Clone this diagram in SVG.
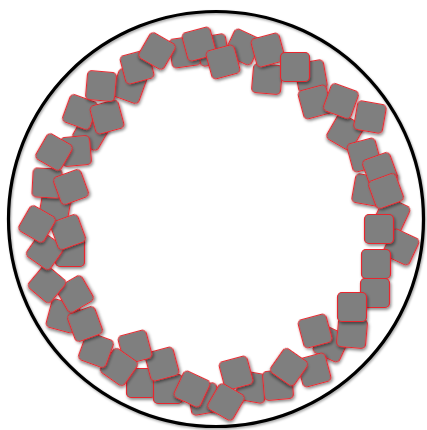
<svg xmlns="http://www.w3.org/2000/svg" xmlns:xlink="http://www.w3.org/1999/xlink" width="427" height="430" viewBox="0 0 427 430">
  <defs>
    <filter id="sh" x="-40%" y="-40%" width="180%" height="180%">
      <feDropShadow dx="1.2" dy="2" stdDeviation="1.4" flood-color="#000" flood-opacity="0.45"/>
    </filter>
    <filter id="csh" x="-5%" y="-5%" width="110%" height="110%">
      <feDropShadow dx="1" dy="1.5" stdDeviation="1.2" flood-color="#000" flood-opacity="0.35"/>
    </filter>
    <rect id="sq" x="-14.5" y="-14.5" width="29" height="29" rx="4.5" ry="4.5"/>
  </defs>
  <style>
    .s { fill: #7f7f7f; stroke: #e8262f; stroke-width: 1.2; filter: url(#sh); }
  </style>
  <rect width="427" height="430" fill="#ffffff"/>
  <circle id="ring" cx="216" cy="219" r="207.5" fill="none" stroke="#000" stroke-width="3.2" filter="url(#csh)"/>
  <g id="back">
    <use href="#sq" class="s" transform="translate(185,52) rotate(-8)"/>
    <use href="#sq" class="s" transform="translate(213,50) rotate(-10)"/>
    <use href="#sq" class="s" transform="translate(129,86) rotate(20)"/>
    <use href="#sq" class="s" transform="translate(91,132) rotate(30)"/>
    <use href="#sq" class="s" transform="translate(76,151) rotate(-5)"/>
    <use href="#sq" class="s" transform="translate(55,207) rotate(10)"/>
    <use href="#sq" class="s" transform="translate(70,252) rotate(0)"/>
    <use href="#sq" class="s" transform="translate(63,316) rotate(15)"/>
    <use href="#sq" class="s" transform="translate(141,383) rotate(0)"/>
    <use href="#sq" class="s" transform="translate(168,389) rotate(0)"/>
    <use href="#sq" class="s" transform="translate(204,399) rotate(-10)"/>
    <use href="#sq" class="s" transform="translate(252,387) rotate(10)"/>
    <use href="#sq" class="s" transform="translate(278,385) rotate(-5)"/>
    <use href="#sq" class="s" transform="translate(331,344) rotate(25)"/>
    <use href="#sq" class="s" transform="translate(311,76) rotate(-10)"/>
    <use href="#sq" class="s" transform="translate(267,79) rotate(5)"/>
    <use href="#sq" class="s" transform="translate(345,132) rotate(30)"/>
    <use href="#sq" class="s" transform="translate(368,190) rotate(10)"/>
    <use href="#sq" class="s" transform="translate(392,215) rotate(25)"/>
    <use href="#sq" class="s" transform="translate(401,247) rotate(25)"/>
  </g>
  <g id="front">
    <use href="#sq" class="s" transform="translate(137,67) rotate(-15)"/>
    <use href="#sq" class="s" transform="translate(157,51) rotate(30)"/>
    <use href="#sq" class="s" transform="translate(199,44) rotate(-15)"/>
    <use href="#sq" class="s" transform="translate(243,47) rotate(25)"/>
    <use href="#sq" class="s" transform="translate(223,62) rotate(-15)"/>
    <use href="#sq" class="s" transform="translate(268,50) rotate(-15)"/>
    <use href="#sq" class="s" transform="translate(295,67) rotate(0)"/>
    <use href="#sq" class="s" transform="translate(315,102) rotate(-15)"/>
    <use href="#sq" class="s" transform="translate(341,101) rotate(20)"/>
    <use href="#sq" class="s" transform="translate(370,117) rotate(10)"/>
    <use href="#sq" class="s" transform="translate(364,155) rotate(-15)"/>
    <use href="#sq" class="s" transform="translate(380,170) rotate(-20)"/>
    <use href="#sq" class="s" transform="translate(386,191) rotate(-20)"/>
    <use href="#sq" class="s" transform="translate(379,229) rotate(0)"/>
    <use href="#sq" class="s" transform="translate(376,264) rotate(0)"/>
    <use href="#sq" class="s" transform="translate(375,293) rotate(0)"/>
    <use href="#sq" class="s" transform="translate(352,333) rotate(5)"/>
    <use href="#sq" class="s" transform="translate(352,307) rotate(0)"/>
    <use href="#sq" class="s" transform="translate(315,331) rotate(-15)"/>
    <use href="#sq" class="s" transform="translate(314,370) rotate(-15)"/>
    <use href="#sq" class="s" transform="translate(289,367) rotate(35)"/>
    <use href="#sq" class="s" transform="translate(236,373) rotate(-15)"/>
    <use href="#sq" class="s" transform="translate(226,402) rotate(30)"/>
    <use href="#sq" class="s" transform="translate(192,389) rotate(25)"/>
    <use href="#sq" class="s" transform="translate(162,364) rotate(-15)"/>
    <use href="#sq" class="s" transform="translate(135,347) rotate(-15)"/>
    <use href="#sq" class="s" transform="translate(119,367) rotate(35)"/>
    <use href="#sq" class="s" transform="translate(96,350) rotate(20)"/>
    <use href="#sq" class="s" transform="translate(85,324) rotate(-20)"/>
    <use href="#sq" class="s" transform="translate(75,294) rotate(-30)"/>
    <use href="#sq" class="s" transform="translate(47,284) rotate(40)"/>
    <use href="#sq" class="s" transform="translate(45,251) rotate(35)"/>
    <use href="#sq" class="s" transform="translate(68,232) rotate(-20)"/>
    <use href="#sq" class="s" transform="translate(37,224) rotate(30)"/>
    <use href="#sq" class="s" transform="translate(47,183) rotate(3)"/>
    <use href="#sq" class="s" transform="translate(71,187) rotate(-20)"/>
    <use href="#sq" class="s" transform="translate(54,152) rotate(30)"/>
    <use href="#sq" class="s" transform="translate(80,112) rotate(20)"/>
    <use href="#sq" class="s" transform="translate(107,117) rotate(-15)"/>
    <use href="#sq" class="s" transform="translate(101,86) rotate(5)"/>
  </g>
</svg>
